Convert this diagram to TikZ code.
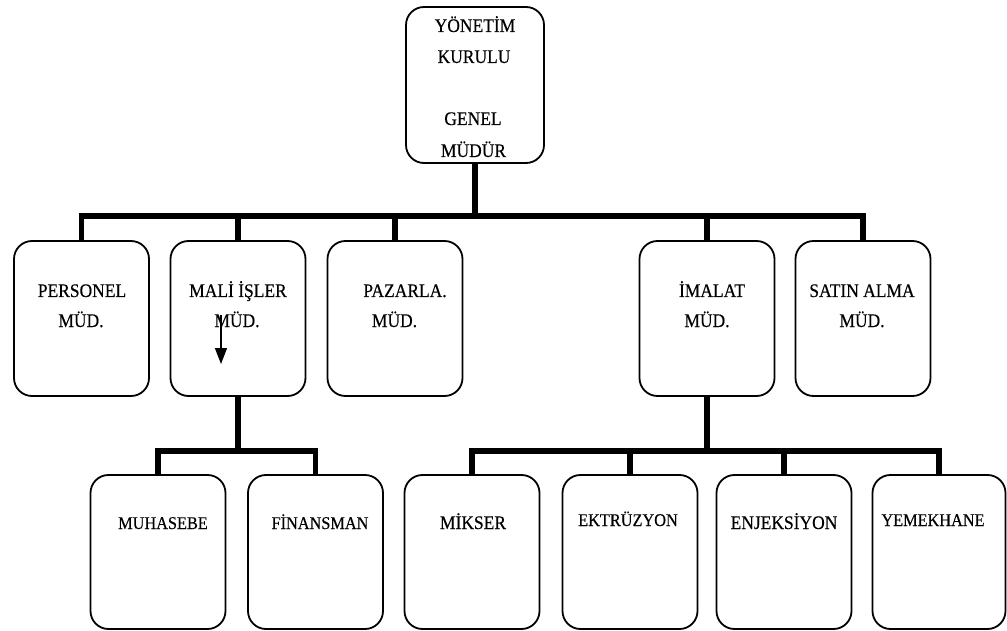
\documentclass[tikz,border=0pt]{standalone}
\usepackage{fontspec}
\setmainfont{Liberation Serif}[FakeStretch=0.91, FakeBold=0.4]
\usetikzlibrary{arrows.meta}

\tikzset{
  unitbox/.style={draw, line width=1.8pt, rounded corners=18pt,
    minimum width=135pt, minimum height=155pt, inner sep=0pt},
  bus/.style={line width=5.5pt, line join=miter},
  lbl/.style={inner sep=0pt, anchor=base,
    font=\fontsize{19.2pt}{22pt}\selectfont},
  lblsmall/.style={lbl, font=\fontsize{17.9pt}{21pt}\selectfont},
  pointer/.style={line width=1.5pt, -{Triangle[length=16pt,width=12pt]}}
}

\begin{document}
\begin{tikzpicture}[x=1pt,y=-1pt]
\useasboundingbox (0,0) rectangle (1007,631);

% boxes
\node[unitbox, minimum width=138pt, minimum height=156pt] (gm) at (475,85) {};

\node[unitbox] (per) at (81.5,318.5) {};
\node[unitbox] (mal) at (238,318.5) {};
\node[unitbox] (paz) at (395,318.5) {};
\node[unitbox] (ima) at (707,318.5) {};
\node[unitbox] (sat) at (863,318.5) {};

\node[unitbox, minimum height=154pt] (muh) at (158,552) {};
\node[unitbox, minimum height=154pt] (fin) at (315.5,552) {};
\node[unitbox, minimum height=154pt] (mik) at (472,552) {};
\node[unitbox, minimum height=154pt] (ekt) at (630,552) {};
\node[unitbox, minimum height=154pt] (enj) at (784,552) {};
\node[unitbox, minimum height=154pt, minimum width=133pt] (yem) at (939,552) {};

% labels
\node[lbl] (gm1) at (475,32) {YÖNETİM};
\node[lbl] (gm2) at (474,63) {KURULU};
\node[lbl] (gm3) at (473,125) {GENEL};
\node[lbl] (gm4) at (473.5,157) {MÜDÜR};

\node[lbl] (per1) at (82,297) {PERSONEL};
\node[lbl] (per2) at (81,327) {MÜD.};
\node[lbl] (mal1) at (238,297) {MALİ İŞLER};
\node[lbl] (mal2) at (237,327) {MÜD.};
\node[lbl] (paz1) at (405,297) {PAZARLA.};
\node[lbl] (paz2) at (394.5,327) {MÜD.};
\node[lbl] (ima1) at (712,297) {İMALAT};
\node[lbl] (ima2) at (707,327) {MÜD.};
\node[lbl] (sat1) at (862,297) {SATIN ALMA};
\node[lbl] (sat2) at (862,327) {MÜD.};

\node[lblsmall] (muh1) at (163,529) {MUHASEBE};
\node[lblsmall] (fin1) at (320,529) {FİNANSMAN};
\node[lbl] (mik1) at (473,529) {MİKSER};
\node[lblsmall] (ekt1) at (628,526) {EKTRÜZYON};
\node[lbl] (enj1) at (784,529) {ENJEKSİYON};
\node[lblsmall] (yem1) at (933,526) {YEMEKHANE};

% bus levels
\coordinate (busTop) at (0,216);
\coordinate (busLow) at (0,451);

% top level connectors
\draw[bus] (gm.south) -- (gm.south |- busTop);
\draw[bus] (per.north) -- (per.north |- busTop) -- (sat.north |- busTop) -- (sat.north);
\draw[bus] (mal.north) -- (mal.north |- busTop);
\draw[bus] (paz.north) -- (paz.north |- busTop);
\draw[bus] (ima.north) -- (ima.north |- busTop);

% finance branch
\draw[bus] (mal.south) -- (mal.south |- busLow);
\draw[bus] (muh.north) -- (muh.north |- busLow) -- (fin.north |- busLow) -- (fin.north);

% production branch
\draw[bus] (ima.south) -- (ima.south |- busLow);
\draw[bus] (mik.north) -- (mik.north |- busLow) -- (yem.north |- busLow) -- (yem.north);
\draw[bus] (ekt.north) -- (ekt.north |- busLow);
\draw[bus] (enj.north) -- (enj.north |- busLow);

% small arrow inside the finance box
\coordinate (arrA) at (221,315);
\coordinate (arrB) at (221,364);
\draw[pointer] (arrA) -- (arrB);
\end{tikzpicture}
\end{document}
